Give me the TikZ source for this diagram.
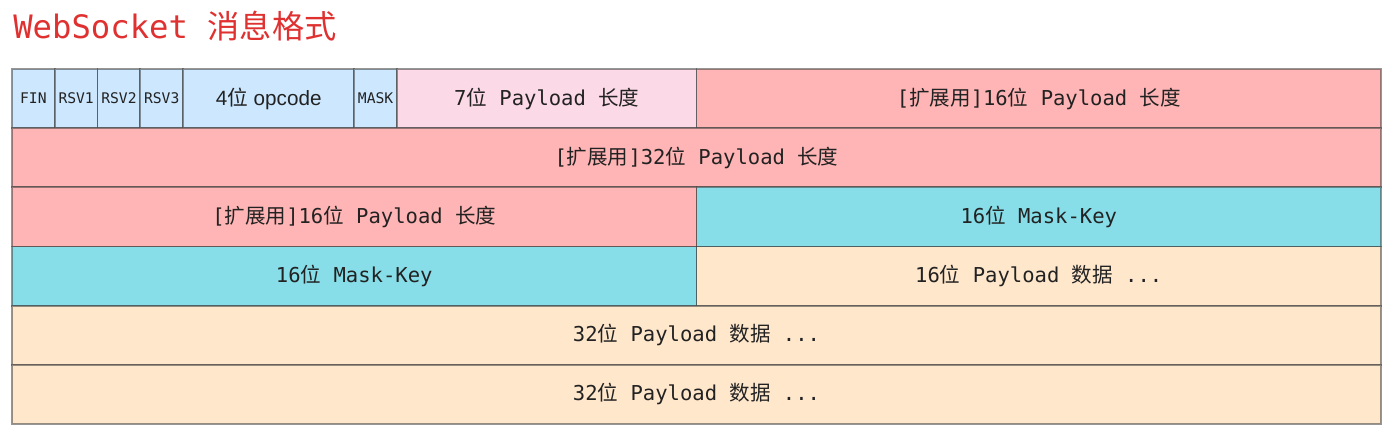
\documentclass[tikz,border=0pt]{standalone}
\usepackage{fontspec}
\setmainfont{Liberation Sans}
\setsansfont{Liberation Sans}
\setmonofont{DejaVu Sans Mono}
\newfontfamily\cjk{Noto Sans CJK SC}
\newcommand\zh[1]{{\cjk #1}}
\definecolor{cblue}{HTML}{CCE7FE}
\definecolor{cpink}{HTML}{FBD9E6}
\definecolor{csalmon}{HTML}{FFB5B5}
\definecolor{ccyan}{HTML}{87DEE8}
\definecolor{cpeach}{HTML}{FFE7CC}
\definecolor{ctitle}{HTML}{E03131}
\definecolor{ctext}{HTML}{222222}
\tikzset{
  cell/.style={rectangle, draw=black!75, draw opacity=0.55, line width=1.3pt,
    inner sep=0pt, text=ctext, font=\ttfamily\fontsize{15.4}{18}\selectfont},
  small/.style={font=\ttfamily\fontsize{11}{13}\selectfont},
  sans/.style={font=\sffamily\fontsize{15.5}{18}\selectfont},
  titletext/.style={text=ctitle, inner sep=0pt, anchor=base west,
    font=\ttfamily\fontsize{24.2}{28}\selectfont}
}
% name, bit start, bit end, row, colour, text, extra style
\newcommand\fcell[7]{%
  \node[cell, fill=#5, #7,
    minimum width={(#3-#2)*42.78125*0.75pt},
    minimum height={59.1667*0.75pt}]
    (#1) at ({12+(#2+#3)/2*42.78125},{69+(#4+0.5)*59.1667}) {#6};}
\begin{document}
\begin{tikzpicture}[x=0.75pt,y=-0.75pt]
\useasboundingbox (0,0) rectangle (1392,442);
\node[titletext] (title) at (13,39) {WebSocket \zh{消息格式}};
% row 0
\fcell{fin}{0}{1}{0}{cblue}{FIN}{small}
\fcell{rsva}{1}{2}{0}{cblue}{RSV1}{small}
\fcell{rsvb}{2}{3}{0}{cblue}{RSV2}{small}
\fcell{rsvc}{3}{4}{0}{cblue}{RSV3}{small}
\fcell{opcode}{4}{8}{0}{cblue}{4\zh{位} opcode}{sans}
\fcell{mask}{8}{9}{0}{cblue}{MASK}{small}
\fcell{len}{9}{16}{0}{cpink}{7\zh{位} Payload \zh{长度}}{}
\fcell{lenext}{16}{32}{0}{csalmon}{[\zh{扩展用}]16\zh{位} Payload \zh{长度}}{}
% row 1
\fcell{lenb}{0}{32}{1}{csalmon}{[\zh{扩展用}]32\zh{位} Payload \zh{长度}}{}
% row 2
\fcell{lenc}{0}{16}{2}{csalmon}{[\zh{扩展用}]16\zh{位} Payload \zh{长度}}{}
\fcell{keya}{16}{32}{2}{ccyan}{16\zh{位} Mask-Key}{}
% row 3
\fcell{keyb}{0}{16}{3}{ccyan}{16\zh{位} Mask-Key}{}
\fcell{data}{16}{32}{3}{cpeach}{16\zh{位} Payload \zh{数据} ...}{}
% row 4
\fcell{datab}{0}{32}{4}{cpeach}{32\zh{位} Payload \zh{数据} ...}{}
% row 5
\fcell{datac}{0}{32}{5}{cpeach}{32\zh{位} Payload \zh{数据} ...}{}
\end{tikzpicture}
\end{document}
